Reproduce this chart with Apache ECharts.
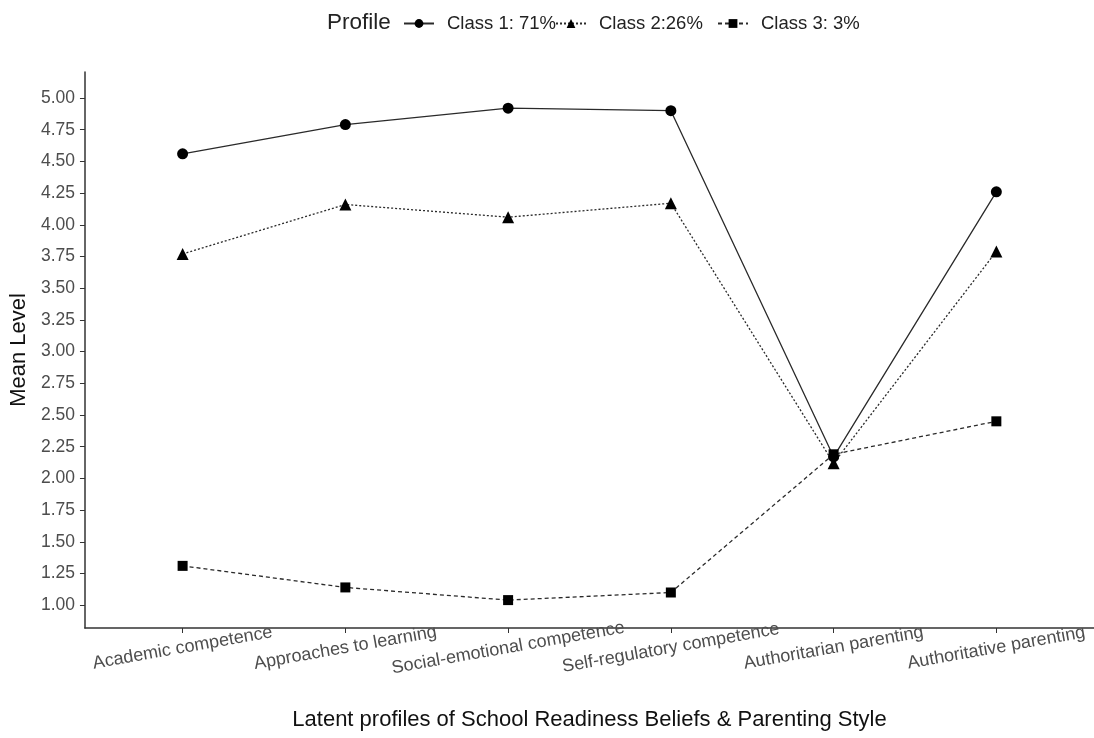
<!DOCTYPE html>
<html>
<head>
<meta charset="utf-8">
<script src="https://cdn.jsdelivr.net/npm/echarts@6/dist/echarts.min.js"></script>
<style>
  html, body { margin: 0; padding: 0; background: #fff; }
  #chart { width: 1094px; height: 738px; }
</style>
</head>
<body>
<div id="chart"></div>
<script>
// Indicators on the x axis
const categories = [
  'Academic competence',
  'Approaches to learning',
  'Social-emotional competence',
  'Self-regulatory competence',
  'Authoritarian parenting',
  'Authoritative parenting'
];

// Mean level of each latent profile per indicator
const class1 = [4.56, 4.79, 4.92, 4.90, 2.17, 4.26];
const class2 = [3.77, 4.16, 4.06, 4.17, 2.12, 3.79];
const class3 = [1.31, 1.14, 1.04, 1.10, 2.19, 2.45];

const seriesNames = ['Class 1: 71%', 'Class 2:26%', 'Class 3: 3%'];
const yTicks = [1.00, 1.25, 1.50, 1.75, 2.00, 2.25, 2.50, 2.75, 3.00, 3.25, 3.50, 3.75, 4.00, 4.25, 4.50, 4.75, 5.00];

const catIndex = categories.map((_, i) => i);
const toPairs = vals => vals.map((v, i) => [i, v]);

const font = 'Liberation Sans, Arial, sans-serif';
const tickColor = '#4d4d4d';

function lineSeries(name, vals, symbol, dash, size) {
  return {
    name: name,
    type: 'line',
    data: toPairs(vals),
    symbol: symbol,
    symbolSize: size,
    itemStyle: { color: '#000' },
    lineStyle: { color: '#2a2a2a', width: 1.3, type: dash },
    emphasis: { disabled: true },
    animation: false
  };
}

// one legend block per profile so each key sits where it belongs
const legendLefts = [398, 550, 712];
const legends = seriesNames.map((n, i) => ({
  data: [n],
  left: legendLefts[i],
  top: 9,
  itemWidth: 30,
  itemHeight: 11,
  itemGap: 0,
  selectedMode: false,
  textStyle: { fontFamily: font, fontSize: 18.5, color: '#222', padding: [0, 0, 0, 8] }
}));

const chart = echarts.init(document.getElementById('chart'), null, { renderer: 'canvas' });
chart.setOption({
  backgroundColor: '#fff',
  title: {
    text: 'Profile',
    left: 322,
    top: 6,
    textStyle: { fontFamily: font, fontSize: 22.5, fontWeight: 'normal', color: '#222' }
  },
  legend: legends,
  grid: { left: 82, right: 0, top: 72, bottom: 110, containLabel: false },
  xAxis: {
    type: 'value',
    min: -0.6,
    max: 5.6,
    name: 'Latent profiles of School Readiness Beliefs & Parenting Style',
    nameLocation: 'middle',
    nameGap: 81,
    nameTextStyle: { fontFamily: font, fontSize: 22, color: '#111' },
    splitLine: { show: false },
    axisLine: { show: true, onZero: false, lineStyle: { color: '#333', width: 1.5 } },
    axisTick: { show: true, customValues: catIndex, length: 5, lineStyle: { color: '#333' } },
    axisLabel: {
      customValues: catIndex,
      formatter: v => categories[Math.round(v)],
      rotate: 10,
      align: 'center',
      verticalAlign: 'middle',
      margin: 20,
      fontFamily: font,
      fontSize: 18,
      color: tickColor
    }
  },
  yAxis: {
    type: 'value',
    min: 0.82,
    max: 5.205,
    name: 'Mean Level',
    nameLocation: 'middle',
    nameGap: 47,
    nameTextStyle: { fontFamily: font, fontSize: 22, color: '#111' },
    splitLine: { show: false },
    axisLine: { show: true, onZero: false, lineStyle: { color: '#333', width: 1.5 } },
    axisTick: { show: true, customValues: yTicks, length: 5, lineStyle: { color: '#333' } },
    axisLabel: {
      customValues: yTicks,
      formatter: v => v.toFixed(2),
      margin: 10,
      fontFamily: font,
      fontSize: 17.5,
      color: tickColor
    }
  },
  series: [
    lineSeries(seriesNames[0], class1, 'circle', 'solid', 11),
    lineSeries(seriesNames[1], class2, 'triangle', [2, 2], 12),
    lineSeries(seriesNames[2], class3, 'rect', [4, 3], 10)
  ]
});
</script>
</body>
</html>
